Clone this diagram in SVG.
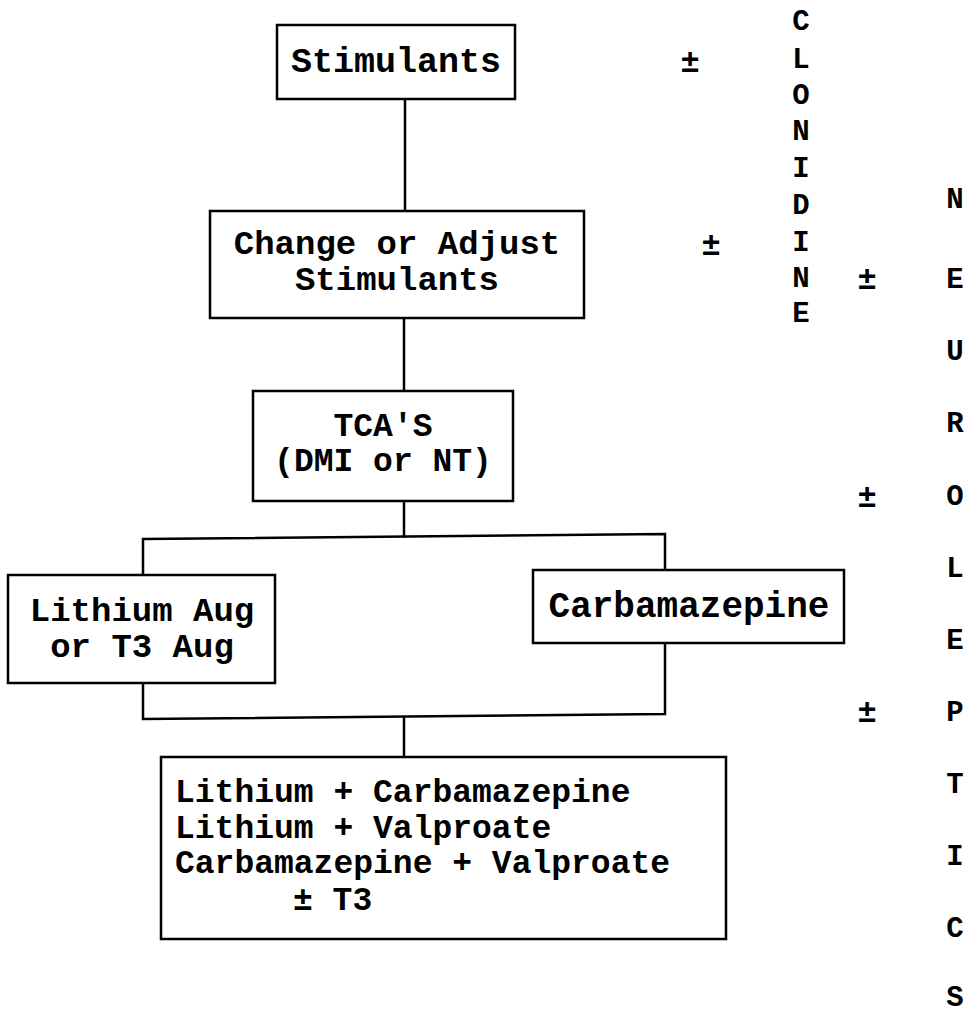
<svg xmlns="http://www.w3.org/2000/svg" width="979" height="1015" viewBox="0 0 979 1015">
<style>
.box{fill:#fff;stroke:#000;stroke-width:2.5}
.ln{fill:none;stroke:#000;stroke-width:2.5}
text{font-family:"Liberation Mono","Courier New",monospace;font-weight:bold;fill:#000}
.c{text-anchor:middle}
.col{font-size:29px;text-anchor:middle}
.pm{font-size:32px;text-anchor:middle}
</style>
<rect width="979" height="1015" fill="#fff"/>
<g id="connectors">
<line class="ln" x1="405" y1="99" x2="405" y2="211"/>
<line class="ln" x1="404" y1="318" x2="404" y2="391"/>
<line class="ln" x1="404" y1="501" x2="404" y2="538"/>
<polyline class="ln" points="143,575 143,539 665,534 665,570"/>
<polyline class="ln" points="143,683 143,719 665,714 665,643"/>
<line class="ln" x1="404" y1="717" x2="404" y2="757"/>
</g>
<g id="stimulants">
<rect class="box" x="277" y="25" width="238" height="74"/>
<text class="c" x="396" y="72" font-size="35">Stimulants</text>
</g>
<g id="change">
<rect class="box" x="210" y="211" width="374" height="107"/>
<text class="c" x="397" y="254" font-size="34">Change or Adjust</text>
<text class="c" x="397" y="290" font-size="34">Stimulants</text>
</g>
<g id="tca">
<rect class="box" x="253" y="391" width="260" height="110"/>
<text class="c" x="383" y="436" font-size="33">TCA'S</text>
<text class="c" x="383" y="471" font-size="33">(DMI or NT)</text>
</g>
<g id="lithium">
<rect class="box" x="8" y="575" width="267" height="108"/>
<text class="c" x="142" y="621" font-size="34">Lithium Aug</text>
<text class="c" x="142" y="657" font-size="34">or T3 Aug</text>
</g>
<g id="carbamazepine">
<rect class="box" x="533" y="570" width="311" height="73"/>
<text class="c" x="689" y="617" font-size="36">Carbamazepine</text>
</g>
<g id="combos">
<rect class="box" x="161" y="757" width="565" height="182"/>
<text x="175" y="802" font-size="33">Lithium + Carbamazepine</text>
<text x="175" y="838" font-size="33">Lithium + Valproate</text>
<text x="175" y="873" font-size="33">Carbamazepine + Valproate</text>
<text x="293" y="910" font-size="33">± T3</text>
</g>
<g id="clonidine">
<text class="col" x="801" y="30">C</text>
<text class="col" x="801" y="68">L</text>
<text class="col" x="801" y="104">O</text>
<text class="col" x="801" y="140">N</text>
<text class="col" x="801" y="177">I</text>
<text class="col" x="801" y="214">D</text>
<text class="col" x="801" y="251">I</text>
<text class="col" x="801" y="287">N</text>
<text class="col" x="801" y="322">E</text>
</g>
<g id="neuroleptics">
<text class="col" x="955" y="208">N</text>
<text class="col" x="955" y="288">E</text>
<text class="col" x="955" y="360">U</text>
<text class="col" x="955" y="432">R</text>
<text class="col" x="955" y="505">O</text>
<text class="col" x="955" y="577">L</text>
<text class="col" x="955" y="649">E</text>
<text class="col" x="955" y="721">P</text>
<text class="col" x="955" y="793">T</text>
<text class="col" x="955" y="865">I</text>
<text class="col" x="955" y="937">C</text>
<text class="col" x="955" y="1006">S</text>
</g>
<g id="plusminus">
<text class="pm" x="690" y="72">±</text>
<text class="pm" x="711" y="255">±</text>
<text class="pm" x="867" y="289">±</text>
<text class="pm" x="867" y="507">±</text>
<text class="pm" x="867" y="722">±</text>
</g>
</svg>
